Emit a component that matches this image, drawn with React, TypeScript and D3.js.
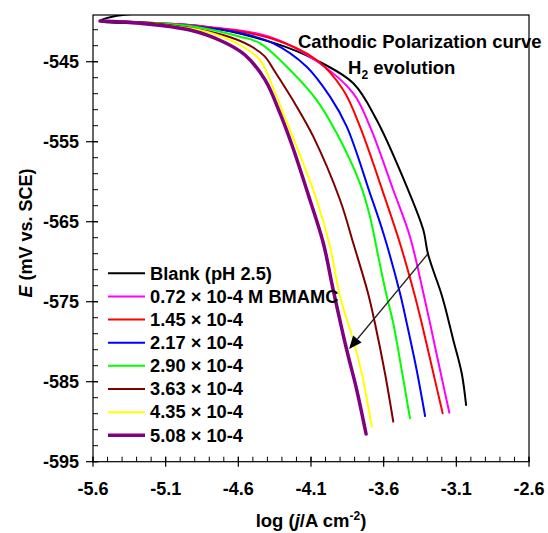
import React from "react";
import * as d3 from "d3";

type Pt = [number, number];

const xTicks = [-5.6, -5.1, -4.6, -4.1, -3.6, -3.1, -2.6];
const yTicks = [-545, -555, -565, -575, -585, -595];

const blank: Pt[] = [
  [-5.33, -539.05], [-5.46, -539.35], [-5.552, -539.91], [-4.864, -540.54], [-4.341, -542.74],
  [-4.066, -544.79], [-3.809, -547.7], [-3.648, -552.29], [-3.441, -560.62],
  [-3.327, -566.04], [-3.295, -569.04], [-3.205, -573.91], [-3.178, -575.62], [-3.121, -579.79],
  [-3.063, -583.95], [-3.033, -587.91],
];
const c072: Pt[] = [
  [-5.552, -539.91], [-4.864, -540.54], [-4.382, -541.91], [-4.052, -545.04], [-3.809, -548.95],
  [-3.694, -553.12], [-3.534, -561.04], [-3.419, -566.87], [-3.327, -573.91],
  [-3.281, -577.7], [-3.212, -583.54], [-3.148, -588.87],
];
const c145: Pt[] = [
  [-5.552, -539.91], [-4.864, -540.6], [-4.382, -542.04], [-4.061, -544.79], [-3.878, -548.54],
  [-3.763, -553.12], [-3.602, -561.45], [-3.488, -567.7], [-3.396, -573.54],
  [-3.338, -577.7], [-3.258, -583.95], [-3.194, -588.95],
];
const c217: Pt[] = [
  [-5.552, -539.91], [-4.864, -540.66], [-4.588, -541.41], [-4.359, -542.7], [-4.13, -545.62],
  [-3.969, -549.37], [-3.854, -553.12], [-3.694, -561.45], [-3.602, -566.45],
  [-3.488, -573.91], [-3.441, -577.7], [-3.373, -583.54], [-3.315, -589.29],
];
const c290: Pt[] = [
  [-5.552, -539.91], [-4.933, -540.54], [-4.588, -541.87], [-4.45, -542.7], [-4.244, -546.04],
  [-4.061, -549.79], [-3.923, -553.95], [-3.763, -560.2], [-3.694, -564.37],
  [-3.637, -569.37], [-3.584, -573.91], [-3.534, -577.7], [-3.476, -583.54], [-3.419, -589.57],
];
const c363: Pt[] = [
  [-5.552, -539.91], [-5.208, -540.16], [-4.705, -541.66], [-4.52, -543.0], [-4.42, -544.3],
  [-4.35, -546.2], [-4.198, -550.62], [-4.084, -554.37], [-3.9, -562.29],
  [-3.809, -567.7], [-3.708, -573.91], [-3.66, -577.7], [-3.591, -583.95], [-3.534, -589.99],
];
const c435: Pt[] = [
  [-5.552, -539.91], [-5.277, -540.16], [-4.818, -541.25], [-4.588, -542.91], [-4.451, -544.79],
  [-4.382, -547.29], [-4.291, -551.45], [-4.203, -555.41], [-4.061, -562.29], [-3.969, -568.12],
  [-3.9, -574.37], [-3.809, -579.79], [-3.751, -583.95], [-3.682, -590.62],
];
const c508: Pt[] = [
  [-5.552, -539.91], [-5.277, -540.2], [-4.933, -541.04], [-4.705, -542.5], [-4.554, -544.16],
  [-4.416, -547.28], [-4.313, -551.45], [-4.231, -555.41], [-4.107, -562.29], [-4.015, -567.7],
  [-3.947, -573.54], [-3.854, -581.04], [-3.785, -586.04], [-3.721, -591.54],
];

const labels = [
  "Blank (pH 2.5)",
  "0.72 × 10-4 M BMAMC",
  "1.45 × 10-4",
  "2.17 × 10-4",
  "2.90 × 10-4",
  "3.63 × 10-4",
  "4.35 × 10-4",
  "5.08 × 10-4",
];
const seriesData = [blank, c072, c145, c217, c290, c363, c435, c508];
const colors = ["#000000", "#ff00ff", "#ff0000", "#0000ff", "#00ff00", "#800000", "#ffff00", "#800080"];
const widths = [2, 2, 2, 2, 2, 2, 2, 3.5];

const arrowFrom: Pt = [-3.297, -569.04];
const arrowTo: Pt = [-3.838, -580.91];

export default function App() {
  const W = 548, H = 533;
  const L = 93, R = 529, T = 15, B = 461.7;
  const x = d3.scaleLinear().domain([-5.6, -2.6]).range([L, R]);
  const y = d3.scaleLinear().domain([-595, -539.16]).range([B, T]);
  const line = d3.line<Pt>().x((d) => x(d[0])).y((d) => y(d[1])).curve(d3.curveCatmullRom.alpha(0.5));
  const font = "'Liberation Sans', Arial, sans-serif";

  const xMinor = d3.range(-5.6, -2.6 + 1e-9, 0.1).map((v) => +v.toFixed(2));
  const yMinor = d3.range(-595, -539, 2);

  const ax = x(arrowFrom[0]), ay = y(arrowFrom[1]);
  const bx = x(arrowTo[0]), by = y(arrowTo[1]);
  const ang = Math.atan2(by - ay, bx - ax);
  const hl = 13, hw = 5.5;
  const baseX = bx - hl * Math.cos(ang), baseY = by - hl * Math.sin(ang);
  const px = -Math.sin(ang), py = Math.cos(ang);
  const head = `M${bx},${by}L${baseX + hw * px},${baseY + hw * py}L${baseX - hw * px},${baseY - hw * py}Z`;

  const legY0 = 273.3, legStep = 23.14;

  return (
    <svg width={W} height={H} style={{ position: "absolute", left: 0, top: 0, background: "#fff" }}
      fontFamily={font} fontWeight="bold">
      <defs>
        <clipPath id="plot">
          <rect x={L} y={T} width={R - L} height={B - T} />
        </clipPath>
      </defs>
      <rect width={W} height={H} fill="#fff" />
      <g clipPath="url(#plot)" fill="none" strokeLinejoin="round" strokeLinecap="round">
        {seriesData.map((s, i) => (
          <path key={i} d={line(s) || ""} stroke={colors[i]} strokeWidth={widths[i]} />
        ))}
      </g>
      <rect x={L} y={T} width={R - L} height={B - T} fill="none" stroke="#000" strokeWidth={1.2} />
      {xMinor.map((v, i) => (
        <line key={"xm" + i} x1={x(v)} x2={x(v)} y1={B} y2={B - 5} stroke="#000" strokeWidth={1} />
      ))}
      {xTicks.map((v) => (
        <g key={"xt" + v}>
          <line x1={x(v)} x2={x(v)} y1={B - 5} y2={B + 5} stroke="#000" strokeWidth={1.2} />
          <text x={x(v)} y={495} fontSize={18} textAnchor="middle" fill="#000">{v.toFixed(1)}</text>
        </g>
      ))}
      {yMinor.map((v, i) => (
        <line key={"ym" + i} x1={L} x2={L + 5} y1={y(v)} y2={y(v)} stroke="#000" strokeWidth={1} />
      ))}
      {yTicks.map((v) => (
        <g key={"yt" + v}>
          <line x1={L - 7} x2={L + 5} y1={y(v)} y2={y(v)} stroke="#000" strokeWidth={1.2} />
          <text x={79} y={y(v) + 6.5} fontSize={18} textAnchor="end" fill="#000">{v}</text>
        </g>
      ))}
      <text transform="translate(32,233) rotate(-90)" fontSize={18} textAnchor="middle" fill="#000">
        <tspan fontStyle="italic">E</tspan> (mV vs. SCE)
      </text>
      <text x={311} y={527} fontSize={18.5} textAnchor="middle" fill="#000">
        log (<tspan fontStyle="italic">j</tspan>/A cm<tspan fontSize={12} dy={-7}>-2</tspan><tspan dy={7}>)</tspan>
      </text>
      <text x={298} y={48} fontSize={18.5} fill="#000">Cathodic Polarization curve</text>
      <text x={348} y={74} fontSize={18.5} fill="#000">
        H<tspan fontSize={12} dy={5}>2</tspan><tspan dy={-5}> evolution</tspan>
      </text>
      <line x1={ax} y1={ay} x2={baseX} y2={baseY} stroke="#222" strokeWidth={1.3} />
      <path d={head} fill="#000" />
      {labels.map((lab, i) => {
        const ly = legY0 + i * legStep;
        return (
          <g key={"lg" + i}>
            <line x1={108} x2={145} y1={ly} y2={ly} stroke={colors[i]} strokeWidth={widths[i]} />
            <text x={150} y={ly + 6.3} fontSize={18.3} fill="#000">{lab}</text>
          </g>
        );
      })}
    </svg>
  );
}
